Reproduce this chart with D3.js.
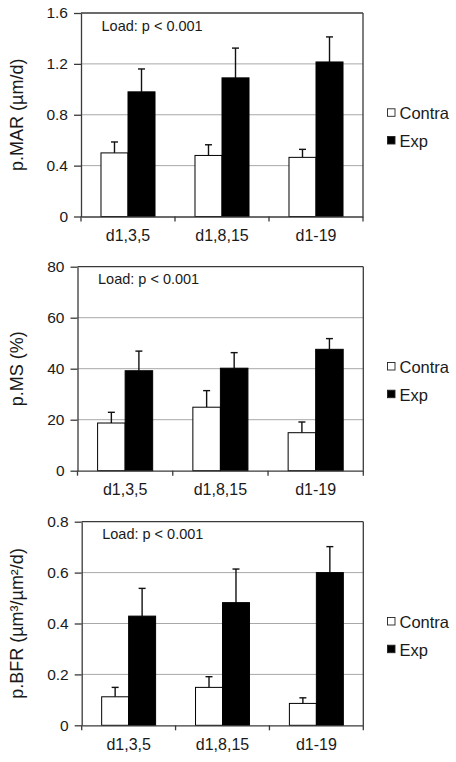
<!DOCTYPE html>
<html>
<head>
<meta charset="utf-8">
<script src="https://cdn.jsdelivr.net/npm/d3@7"></script>
<style>
  html, body { margin: 0; padding: 0; background: #fff; }
  svg { display: block; font-family: "Liberation Sans", Arial, Helvetica, sans-serif; }
</style>
</head>
<body>
<svg id="chart" width="456" height="762"></svg>
<script>
// ---------- data ----------
const categories = ["d1,3,5", "d1,8,15", "d1-19"];
const seriesNames = ["Contra", "Exp"];

const marContra = [0.50, 0.48, 0.465];
const marContraErr = [0.086, 0.084, 0.063];
const marExp = [0.98, 1.09, 1.215];
const marExpErr = [0.18, 0.234, 0.197];
const marTicks = [0, 0.4, 0.8, 1.2, 1.6];

const msContra = [18.7, 24.9, 14.9];
const msContraErr = [4.2, 6.5, 4.2];
const msExp = [39.2, 40.2, 47.6];
const msExpErr = [7.7, 6.1, 4.2];
const msTicks = [0, 20, 40, 60, 80];

const bfrContra = [0.112, 0.149, 0.086];
const bfrContraErr = [0.037, 0.042, 0.022];
const bfrExp = [0.429, 0.482, 0.600];
const bfrExpErr = [0.109, 0.132, 0.102];
const bfrTicks = [0, 0.2, 0.4, 0.6, 0.8];

const annotation = "Load: p < 0.001";

const panels = [
  { label: "p.MAR (µm/d)", contra: marContra, contraErr: marContraErr, exp: marExp, expErr: marExpErr,
    ticks: marTicks, x0: 81, x1: 363, yTop: 13, yZero: 216.5, pad: 0.74 },
  { label: "p.MS (%)", contra: msContra, contraErr: msContraErr, exp: msExp, expErr: msExpErr,
    ticks: msTicks, x0: 77.5, x1: 363.3, yTop: 266.7, yZero: 470.7, pad: 0.73 },
  { label: "p.BFR (µm³/µm²/d)", contra: bfrContra, contraErr: bfrContraErr, exp: bfrExp, expErr: bfrExpErr,
    ticks: bfrTicks, x0: 81.7, x1: 363.3, yTop: 521.7, yZero: 725.3, pad: 0.74 }
];

const svg = d3.select("#chart");
const axisColor = "#3a3a3a";
const gridColor = "#a8a8a8";
const textColor = "#1a1a1a";

panels.forEach(p => {
  const g = svg.append("g");
  const x = d3.scaleBand().domain(categories).range([p.x0, p.x1]).paddingInner(0).paddingOuter(0);
  const xs = d3.scaleBand().domain(seriesNames).range([0, x.bandwidth()]).paddingInner(0).paddingOuter(p.pad);
  const y = d3.scaleLinear().domain([p.ticks[0], p.ticks[p.ticks.length - 1]]).range([p.yZero, p.yTop]);

  // gridlines
  g.append("g").selectAll("line").data(p.ticks.slice(1, -1)).join("line")
    .attr("x1", p.x0).attr("x2", p.x1)
    .attr("y1", d => y(d)).attr("y2", d => y(d))
    .attr("stroke", gridColor).attr("stroke-width", 1);

  // top and right frame
  g.append("line").attr("x1", p.x0).attr("x2", p.x1).attr("y1", p.yTop).attr("y2", p.yTop)
    .attr("stroke", axisColor).attr("stroke-width", 1.3);
  g.append("line").attr("x1", p.x1).attr("x2", p.x1).attr("y1", p.yTop).attr("y2", p.yZero)
    .attr("stroke", axisColor).attr("stroke-width", 1.3);

  // bars
  const rows = categories.map((c, i) => ({ c, s: "Contra", v: p.contra[i], e: p.contraErr[i] }))
    .concat(categories.map((c, i) => ({ c, s: "Exp", v: p.exp[i], e: p.expErr[i] })));

  // error bars (upper only)
  const eb = g.append("g").selectAll("g").data(rows).join("g");
  eb.append("line")
    .attr("x1", d => x(d.c) + xs(d.s) + xs.bandwidth() / 2)
    .attr("x2", d => x(d.c) + xs(d.s) + xs.bandwidth() / 2)
    .attr("y1", d => y(d.v)).attr("y2", d => y(d.v + d.e))
    .attr("stroke", "#111").attr("stroke-width", 1.4);
  eb.append("line")
    .attr("x1", d => x(d.c) + xs(d.s) + xs.bandwidth() / 2 - 3.5)
    .attr("x2", d => x(d.c) + xs(d.s) + xs.bandwidth() / 2 + 3.5)
    .attr("y1", d => y(d.v + d.e)).attr("y2", d => y(d.v + d.e))
    .attr("stroke", "#111").attr("stroke-width", 1.4);

  g.append("g").selectAll("rect").data(rows).join("rect")
    .attr("x", d => x(d.c) + xs(d.s))
    .attr("width", xs.bandwidth())
    .attr("y", d => y(d.v))
    .attr("height", d => p.yZero - y(d.v))
    .attr("fill", d => d.s === "Contra" ? "#ffffff" : "#000000")
    .attr("stroke", "#000").attr("stroke-width", 1);

  // y axis
  const yAxis = d3.axisLeft(y).tickValues(p.ticks).tickSize(7).tickSizeOuter(0).tickPadding(6)
    .tickFormat(d => d === 0 ? "0" : (Number.isInteger(d) ? String(d) : d3.format(".1f")(d)));
  const ya = g.append("g").attr("transform", `translate(${p.x0},0)`).call(yAxis);
  ya.select(".domain").attr("stroke", axisColor).attr("stroke-width", 1.3);
  ya.selectAll(".tick line").attr("stroke", axisColor).attr("stroke-width", 1.3);
  ya.selectAll(".tick text").attr("font-size", 15.5).attr("fill", textColor)
    .attr("font-family", "Liberation Sans, Arial, sans-serif");

  // x axis
  const xAxis = d3.axisBottom(x).tickSize(0).tickSizeOuter(0).tickPadding(13);
  const xa = g.append("g").attr("transform", `translate(0,${p.yZero})`).call(xAxis);
  xa.select(".domain").attr("stroke", axisColor).attr("stroke-width", 1.3);
  xa.selectAll(".tick text").attr("font-size", 16).attr("fill", textColor)
    .attr("font-family", "Liberation Sans, Arial, sans-serif");
  // boundary ticks
  const bounds = [p.x0].concat(categories.map(c => x(c) + x.bandwidth()));
  g.append("g").selectAll("line").data(bounds).join("line")
    .attr("x1", d => d).attr("x2", d => d)
    .attr("y1", p.yZero).attr("y2", p.yZero + 5)
    .attr("stroke", axisColor).attr("stroke-width", 1.3);

  // annotation
  g.append("text").attr("x", p.x0 + 20.5).attr("y", p.yTop + 17.5)
    .attr("font-size", 14.5).attr("fill", textColor).text(annotation);

  // y label
  g.append("text")
    .attr("transform", `translate(23,${(p.yTop + p.yZero) / 2}) rotate(-90)`)
    .attr("text-anchor", "middle").attr("font-size", 18).attr("fill", textColor)
    .text(p.label);

  // legend
  const lg = g.append("g").attr("transform", `translate(387.5,${p.yTop + 106.3})`);
  seriesNames.forEach((s, i) => {
    lg.append("rect").attr("x", 0).attr("y", i * 27.7 - 10.5).attr("width", 7.5).attr("height", 7.5)
      .attr("fill", s === "Contra" ? "#fff" : "#000").attr("stroke", "#222").attr("stroke-width", 0.9);
    lg.append("text").attr("x", 12).attr("y", i * 27.7).attr("font-size", 16.5).attr("fill", textColor).text(s);
  });
});
</script>
</body>
</html>
